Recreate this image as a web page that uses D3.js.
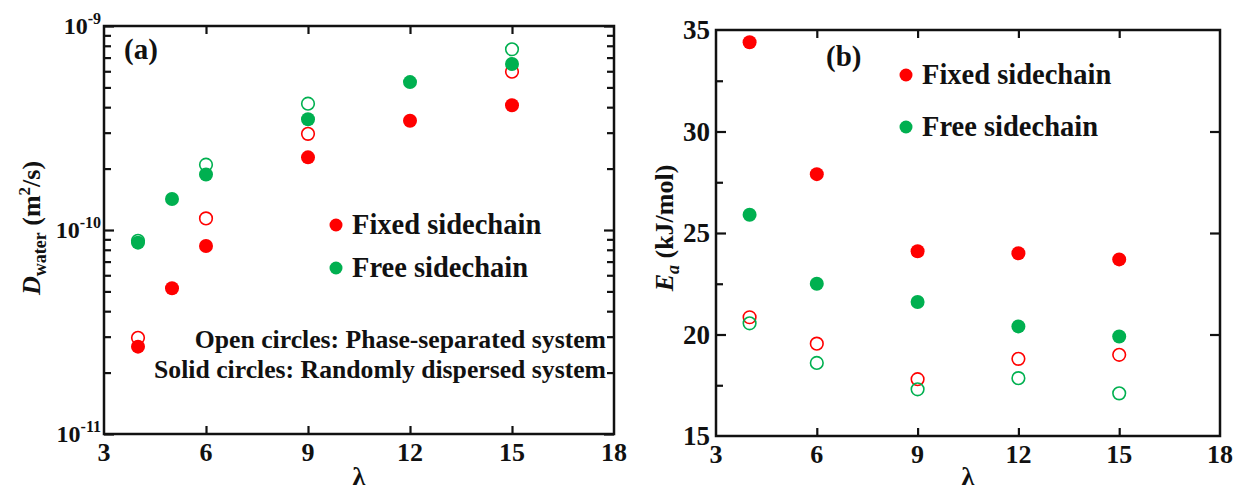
<!DOCTYPE html>
<html>
<head>
<meta charset="utf-8">
<script src="https://cdn.jsdelivr.net/npm/d3@7"></script>
<style>
  body { margin: 0; background: #fff; }
  svg text { font-family: "Liberation Serif", "Times New Roman", serif; font-weight: bold; fill: #111; }
</style>
</head>
<body>
<svg id="chart" width="1238" height="495"></svg>
<script>
// ---- data ----
const lambdaSolidA = [4, 5, 6, 9, 12, 15];
const fixedSolidA = [2.68e-11, 5.18e-11, 8.35e-11, 2.27e-10, 3.43e-10, 4.09e-10];
const freeSolidA = [8.67e-11, 1.42e-10, 1.87e-10, 3.49e-10, 5.31e-10, 6.51e-10];
const lambdaOpenA = [4, 6, 9, 15];
const fixedOpenA = [2.96e-11, 1.14e-10, 2.96e-10, 5.97e-10];
const freeOpenA = [8.85e-11, 2.09e-10, 4.16e-10, 7.69e-10];

const lambdaB = [4, 6, 9, 12, 15];
const fixedSolidB = [34.4, 27.9, 24.1, 24.0, 23.7];
const freeSolidB = [25.9, 22.5, 21.6, 20.4, 19.9];
const fixedOpenB = [20.85, 19.55, 17.8, 18.8, 19.0];
const freeOpenB = [20.55, 18.6, 17.3, 17.85, 17.1];

const xTicks = [3, 6, 9, 12, 15, 18];
const yMajorA = [1e-11, 1e-10, 1e-9];
const yMajorB = [15, 20, 25, 30, 35];
const yMinorB = [17.5, 22.5, 27.5, 32.5];
const legendLabels = ["Fixed sidechain", "Free sidechain"];
const noteLabels = ["Open circles: Phase-separated system", "Solid circles: Randomly dispersed system"];

const RED = "#ff0000", GREEN = "#00b050";
const svg = d3.select("#chart");

// minor ticks of a log axis (2..9 in each decade)
function logMinors(lo, hi) {
    const out = [];
    for (let e = lo; e < hi; e++) for (let m = 2; m <= 9; m++) out.push(m * Math.pow(10, e));
    return out;
}

function frame(g, x, y) {
    const [x0, x1] = x.range(), [y1, y0] = y.range();
    g.append("rect")
        .attr("x", x0).attr("y", y0).attr("width", x1 - x0).attr("height", y1 - y0)
        .attr("fill", "none").attr("stroke", "#111").attr("stroke-width", 2.5);
}

function styleAxis(sel) {
    sel.select(".domain").remove();
    sel.selectAll(".tick line").attr("stroke", "#111").attr("stroke-width", 2.2);
}

function xAxes(g, x, y) {
    const [yb, yt] = y.range();
    const inner = xTicks.slice(1, -1);
    g.append("g").attr("transform", `translate(0,${yb})`)
        .call(d3.axisBottom(x).tickValues(inner).tickSizeInner(-8).tickSizeOuter(0).tickFormat(""))
        .call(styleAxis);
    g.append("g").attr("transform", `translate(0,${yt})`)
        .call(d3.axisTop(x).tickValues(inner).tickSizeInner(-8).tickSizeOuter(0).tickFormat(""))
        .call(styleAxis);
    g.selectAll(".xlab").data(xTicks).enter().append("text")
        .attr("class", "xlab")
        .attr("x", d => x(d)).attr("y", yb + 27)
        .attr("text-anchor", "middle").style("font-size", "26px")
        .text(d => d);
    g.append("text")
        .attr("x", (x.range()[0] + x.range()[1]) / 2).attr("y", 485)
        .attr("text-anchor", "middle").style("font-size", "26px")
        .text("λ");
}

function markers(g, x, y, xs, ys, color, solid) {
    g.append("g").selectAll("circle")
        .data(xs.map((d, i) => [d, ys[i]]))
        .enter().append("circle")
        .attr("cx", d => x(d[0])).attr("cy", d => y(d[1]))
        .attr("r", solid ? 7 : 6.3)
        .attr("fill", solid ? color : "none")
        .attr("stroke", color)
        .attr("stroke-width", solid ? 0 : 1.6);
}

function legend(g, lx, ly, gap) {
    legendLabels.forEach((t, i) => {
        g.append("circle").attr("cx", lx).attr("cy", ly + i * gap).attr("r", 6.5)
            .attr("fill", i === 0 ? RED : GREEN);
        g.append("text").attr("x", lx + 16).attr("y", ly + i * gap + 9)
            .style("font-size", "28.5px").text(t);
    });
}

// ---------------- panel (a) ----------------
const gA = svg.append("g");
const xA = d3.scaleLinear().domain([3, 18]).range([104, 614]);
const yA = d3.scaleLog().domain([1e-11, 1e-9]).range([434, 26]);

frame(gA, xA, yA);
xAxes(gA, xA, yA);

const minorA = logMinors(-11, -9);
[[d3.axisLeft, 104], [d3.axisRight, 614]].forEach(([ax, px]) => {
    gA.append("g").attr("transform", `translate(${px},0)`)
        .call(ax(yA).tickValues(yMajorA).tickSizeInner(-10).tickSizeOuter(0).tickFormat(""))
        .call(styleAxis);
    gA.append("g").attr("transform", `translate(${px},0)`)
        .call(ax(yA).tickValues(minorA).tickSizeInner(-7).tickSizeOuter(0).tickFormat(""))
        .call(styleAxis);
});

gA.selectAll(".ylab").data(yMajorA).enter().append("text")
    .attr("class", "ylab")
    .attr("x", 101).attr("y", d => yA(d) + 8)
    .attr("text-anchor", "end")
    .each(function(d) {
        const t = d3.select(this);
        t.append("tspan").style("font-size", "24px").text("10");
        t.append("tspan").style("font-size", "16px").attr("dy", -10)
            .text(Math.round(Math.log10(d)));
    });

markers(gA, xA, yA, lambdaOpenA, fixedOpenA, RED, false);
markers(gA, xA, yA, lambdaOpenA, freeOpenA, GREEN, false);
markers(gA, xA, yA, lambdaSolidA, fixedSolidA, RED, true);
markers(gA, xA, yA, lambdaSolidA, freeSolidA, GREEN, true);

legend(gA, 336, 225, 43);
noteLabels.forEach((t, i) => {
    gA.append("text").attr("x", 606).attr("y", 348 + i * 30)
        .attr("text-anchor", "end").style("font-size", "25.7px").text(t);
});
gA.append("text").attr("x", 124).attr("y", 59).style("font-size", "29px").text("(a)");

const labA = gA.append("text")
    .attr("transform", "translate(40,228) rotate(-90)")
    .attr("text-anchor", "middle").style("font-size", "26px");
labA.append("tspan").style("font-style", "italic").text("D");
labA.append("tspan").style("font-size", "18px").attr("dy", 6).text("water");
labA.append("tspan").attr("dy", -6).text(" (m");
labA.append("tspan").style("font-size", "17px").attr("dy", -10).text("2");
labA.append("tspan").attr("dy", 10).text("/s)");

// ---------------- panel (b) ----------------
const gB = svg.append("g");
const xB = d3.scaleLinear().domain([3, 18]).range([716, 1220]);
const yB = d3.scaleLinear().domain([15, 35]).range([436, 30]);

frame(gB, xB, yB);
xAxes(gB, xB, yB);

gB.append("g").attr("transform", "translate(716,0)")
    .call(d3.axisLeft(yB).tickValues(yMajorB.slice(1, -1)).tickSizeInner(-10).tickSizeOuter(0).tickFormat(""))
    .call(styleAxis);
gB.append("g").attr("transform", "translate(716,0)")
    .call(d3.axisLeft(yB).tickValues(yMinorB).tickSizeInner(-7).tickSizeOuter(0).tickFormat(""))
    .call(styleAxis);
gB.append("g").attr("transform", "translate(1220,0)")
    .call(d3.axisRight(yB).tickValues(yMajorB.slice(1, -1)).tickSizeInner(-10).tickSizeOuter(0).tickFormat(""))
    .call(styleAxis);

gB.selectAll(".ylab").data(yMajorB).enter().append("text")
    .attr("class", "ylab")
    .attr("x", 710).attr("y", d => yB(d) + 9)
    .attr("text-anchor", "end").style("font-size", "27px")
    .text(d => d);

markers(gB, xB, yB, lambdaB, fixedOpenB, RED, false);
markers(gB, xB, yB, lambdaB, freeOpenB, GREEN, false);
markers(gB, xB, yB, lambdaB, fixedSolidB, RED, true);
markers(gB, xB, yB, lambdaB, freeSolidB, GREEN, true);

legend(gB, 906, 75, 52);
gB.append("text").attr("x", 826).attr("y", 66).style("font-size", "29px").text("(b)");

const labB = gB.append("text")
    .attr("transform", "translate(673,228) rotate(-90)")
    .attr("text-anchor", "middle").style("font-size", "26px");
labB.append("tspan").style("font-style", "italic").text("E");
labB.append("tspan").style("font-style", "italic").style("font-size", "18px").attr("dy", 6).text("a");
labB.append("tspan").attr("dy", -6).text(" (kJ/mol)");
</script>
</body>
</html>
